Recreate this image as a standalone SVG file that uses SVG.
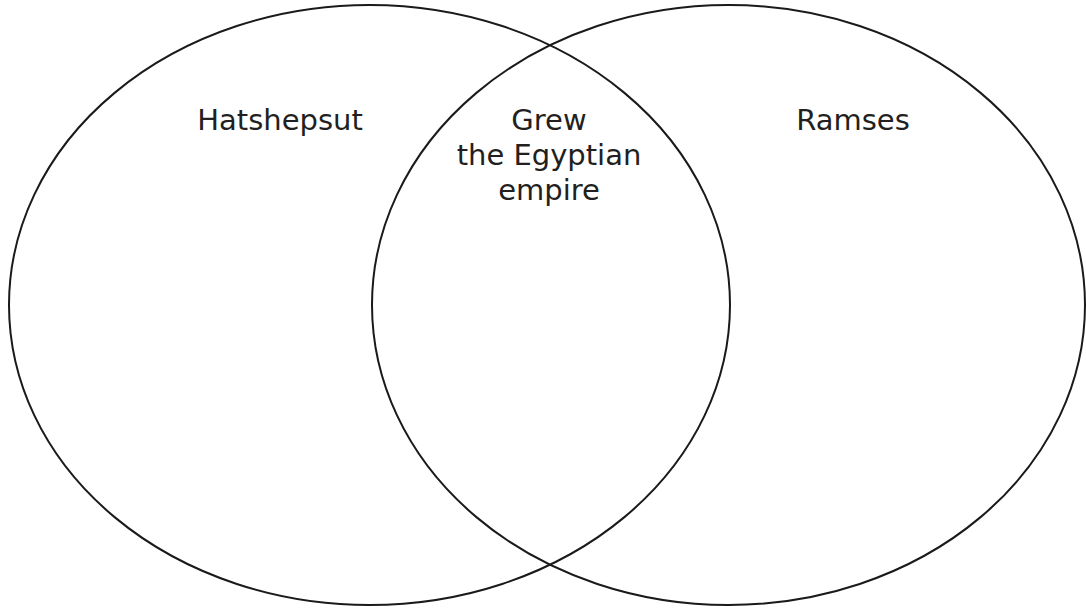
<svg xmlns="http://www.w3.org/2000/svg" width="1086" height="609" viewBox="0 0 1086 609">
<style>
.c{fill:none;stroke:#1a1a1a;stroke-width:2}
text{font-family:"DejaVu Sans",Verdana,sans-serif;font-size:29px;fill:#231f20}
</style>
<rect width="1086" height="609" fill="#fff"/>
<g id="left"><ellipse class="c" cx="369.5" cy="305" rx="360.5" ry="300"/><text x="280" y="130" text-anchor="middle">Hatshepsut</text></g>
<g id="right"><ellipse class="c" cx="728.5" cy="305" rx="356.5" ry="300"/><text x="853" y="130" text-anchor="middle">Ramses</text></g>
<g id="overlap"><text x="549" y="130" text-anchor="middle">Grew</text><text x="549" y="165" text-anchor="middle">the Egyptian</text><text x="549" y="200" text-anchor="middle">empire</text></g>
<g id="connectors"/>
</svg>
